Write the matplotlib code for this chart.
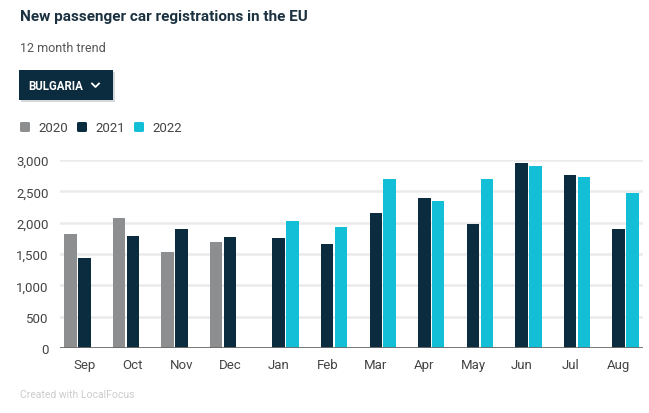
import numpy as np
import matplotlib.pyplot as plt
from matplotlib.patches import FancyBboxPatch, Rectangle

plt.rcParams['font.family'] = ['Roboto', 'DejaVu Sans']

months = ['Sep', 'Oct', 'Nov', 'Dec', 'Jan', 'Feb', 'Mar', 'Apr', 'May', 'Jun', 'Jul', 'Aug']
years = ['2020', '2021', '2022']
nan = np.nan
v2020 = [1820, 2080, 1535, 1695, nan, nan, nan, nan, nan, nan, nan, nan]
v2021 = [1440, 1790, 1900, 1775, 1760, 1665, 2160, 2400, 1985, 2945, 2765, 1900]
v2022 = [nan, nan, nan, nan, 2030, 1935, 2690, 2350, 2690, 2910, 2735, 2480]
colors = ['#8c8e8f', '#0b2b3e', '#12bfd7']

W, H = 649, 414
fig = plt.figure(figsize=(W / 100, H / 100), dpi=100)
ax = fig.add_axes([60 / W, 1 - 349 / H, 583 / W, 188 / H])

x = np.arange(len(months))
slot = 0.284
for i, (vals, c) in enumerate(zip([v2020, v2021, v2022], colors)):
    ax.bar(x + (i - 1) * slot, vals, width=0.257, color=c, zorder=3)

ax.set_xlim(-0.5, 11.5)
ax.set_ylim(0, 3000)
ax.set_yticks(range(0, 3001, 500))
ax.set_yticklabels([f'{t:,}' for t in range(0, 3001, 500)])
ax.set_xticks(x)
ax.set_xticklabels(months)
ax.grid(axis='y', color='#ebebeb', linewidth=1.8, zorder=0)
ax.axhline(0, color='#6b6b6b', linewidth=2, zorder=4)
for s in ax.spines.values():
    s.set_visible(False)
ax.tick_params(length=0, labelsize=9.5, colors='#444444')
ax.tick_params(axis='x', pad=7)
ax.tick_params(axis='y', pad=8)

# title and subtitle
fig.text(20 / W, 1 - 17 / H, 'New passenger car registrations in the EU', fontsize=11,
         fontweight='bold', color='#1b3140', va='center', ha='left')
fig.text(20 / W, 1 - 48 / H, '12 month trend', fontsize=9, color='#555555',
         va='center', ha='left')

# country button
fig.patches.append(Rectangle((21 / W, 1 - 103 / H), 94 / W, 30 / H, transform=fig.transFigure,
                             facecolor='#d5d9dc', edgecolor='none'))
fig.patches.append(Rectangle((19 / W, 1 - 101 / H), 94 / W, 30 / H, transform=fig.transFigure,
                             facecolor='#0b2b3e', edgecolor='none'))
fig.text(28 / W, 1 - 86 / H, 'BULGARIA', fontsize=8.3, fontweight='bold', color='white',
         va='center', ha='left')
fig.lines.append(plt.Line2D([92 / W, 95.5 / W, 99 / W], [1 - 84.5 / H, 1 - 88 / H, 1 - 84.5 / H],
                            transform=fig.transFigure, color='white', linewidth=1.3))

# legend
for lx, label, c in zip([20, 77, 134], years, colors):
    fig.patches.append(FancyBboxPatch((lx / W, 1 - 133 / H), 10 / W, 10 / H,
                                      boxstyle='round,pad=0,rounding_size=0.003',
                                      transform=fig.transFigure, facecolor=c, edgecolor='none'))
    fig.text((lx + 18) / W, 1 - 128 / H, label, fontsize=9.5, color='#444444',
             va='center', ha='left')

fig.text(20 / W, 1 - 395 / H, 'Created with LocalFocus', fontsize=7.5, color='#cccccc',
         va='center', ha='left')

fig.savefig('out.png', dpi=100)
